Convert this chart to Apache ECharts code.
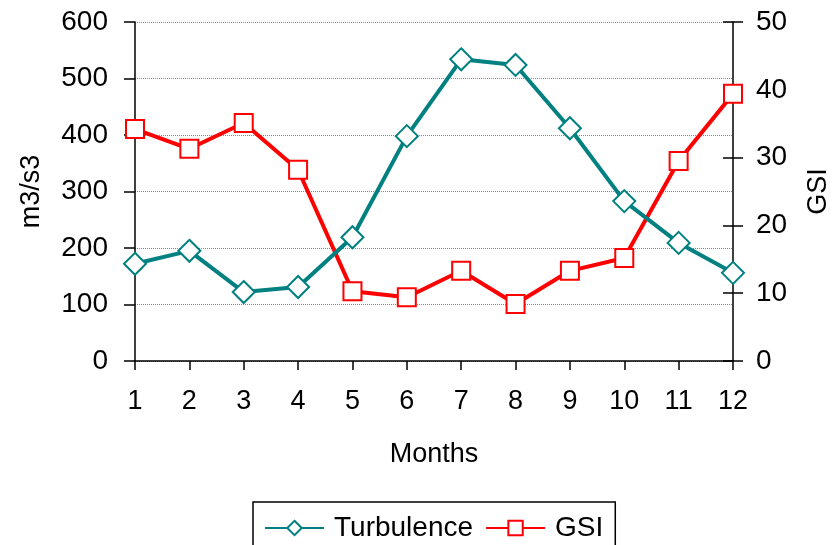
<!DOCTYPE html>
<html>
<head>
<meta charset="utf-8">
<script src="https://cdn.jsdelivr.net/npm/echarts@6/dist/echarts.min.js"></script>
<style>
    html, body { margin: 0; padding: 0; background: #fff; }
    #chart { width: 840px; height: 545px; }
</style>
</head>
<body>
<div id="chart"></div>
<script>
    // data
    var months = ['1', '2', '3', '4', '5', '6', '7', '8', '9', '10', '11', '12'];
    var turbulence = [172, 195, 122, 131, 219, 398, 534, 524, 412, 283, 209, 156];
    var gsi = [34.2, 31.3, 35.1, 28.2, 10.3, 9.4, 13.3, 8.4, 13.3, 15.2, 29.5, 39.4];

    var font = 'Liberation Sans, Arial, sans-serif';
    var myChart = echarts.init(document.getElementById('chart'));
    var option = {
        animation: false,
        textStyle: { fontFamily: font },
        grid: { left: 135, right: 107, top: 22, bottom: 184 },
        legend: {
            data: ['Turbulence', 'GSI'],
            top: 502,
            left: 253,
            padding: [12, 12, 20, 11],
            borderColor: '#000',
            borderWidth: 1.5,
            itemWidth: 59,
            itemHeight: 18,
            itemGap: 12,
            textStyle: { fontSize: 28, color: '#000', fontFamily: font, padding: [0, 0, 0, 5] }
        },
        xAxis: {
            type: 'category',
            data: months,
            boundaryGap: false,
            name: 'Months',
            nameLocation: 'middle',
            nameGap: 80,
            nameTextStyle: { fontSize: 27, color: '#000' },
            axisLine: { lineStyle: { color: '#000', width: 1.5 } },
            axisTick: { alignWithLabel: true, length: 9, lineStyle: { color: '#000', width: 1.5 } },
            axisLabel: { fontSize: 27, color: '#000', margin: 27 }
        },
        yAxis: [{
            type: 'value',
            min: 0,
            max: 600,
            interval: 100,
            name: 'm3/s3',
            nameLocation: 'middle',
            nameGap: 90,
            nameRotate: 90,
            nameTextStyle: { fontSize: 27, color: '#000' },
            axisLine: { show: true, lineStyle: { color: '#000', width: 1.5 } },
            axisTick: { show: true, length: 11, lineStyle: { color: '#000', width: 1.5 } },
            axisLabel: { fontSize: 28, color: '#000', margin: 27 },
            splitLine: { show: true, lineStyle: { color: '#888', type: 'dotted', width: 1 } }
        }, {
            type: 'value',
            min: 0,
            max: 50,
            interval: 10,
            name: 'GSI',
            nameLocation: 'middle',
            nameGap: 72,
            nameRotate: 90,
            nameTextStyle: { fontSize: 27, color: '#000' },
            axisLine: { show: true, lineStyle: { color: '#000', width: 1.5 } },
            axisTick: { show: true, length: 10, lineStyle: { color: '#000', width: 1.5 } },
            axisLabel: { fontSize: 28, color: '#000', margin: 23 },
            splitLine: { show: false }
        }, {
            // inner half of the crossing ticks on the right axis
            type: 'value',
            position: 'right',
            min: 0,
            max: 50,
            interval: 10,
            axisLine: { show: false },
            axisTick: { show: true, inside: true, length: 10, lineStyle: { color: '#000', width: 1.5 } },
            axisLabel: { show: false },
            splitLine: { show: false }
        }],
        series: [{
            name: 'Turbulence',
            type: 'line',
            yAxisIndex: 0,
            data: turbulence,
            symbol: 'diamond',
            symbolSize: 22,
            color: '#008080',
            lineStyle: { width: 4, color: '#008080' },
            itemStyle: { color: '#fff', borderColor: '#008080', borderWidth: 2 },
            z: 3
        }, {
            name: 'GSI',
            type: 'line',
            yAxisIndex: 1,
            data: gsi,
            symbol: 'rect',
            symbolSize: 18,
            color: '#ff0000',
            lineStyle: { width: 4, color: '#ff0000' },
            itemStyle: { color: '#fff', borderColor: '#ff0000', borderWidth: 2 },
            z: 2
        }]
    };
    myChart.setOption(option);
</script>
</body>
</html>
